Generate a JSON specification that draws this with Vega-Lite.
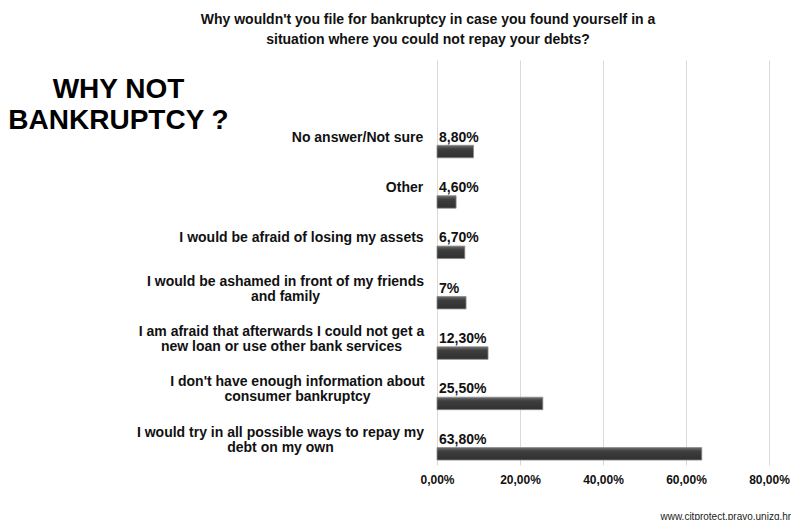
{
  "$schema": "https://vega.github.io/schema/vega-lite/v6.json",
  "width": 332,
  "height": 405,
  "autosize": {"type": "none"},
  "padding": {"left": 437, "top": 60, "right": 22, "bottom": 55},
  "background": "white",
  "config": {
    "font": "Liberation Sans",
    "view": {"stroke": null}
  },
  "title": {
    "text": ["Why wouldn't you file for bankruptcy in case you found yourself in a", "situation where you could not repay your debts?"],
    "anchor": "middle",
    "frame": "group",
    "dx": -175,
    "offset": 13,
    "fontSize": 14,
    "fontWeight": "bold",
    "lineHeight": 20,
    "color": "#111111"
  },
  "data": {
    "values": [
      {"category": "No answer/Not sure", "value": 0.088, "label": "8,80%"},
      {"category": "Other", "value": 0.046, "label": "4,60%"},
      {"category": "I would be afraid of losing my assets", "value": 0.067, "label": "6,70%"},
      {"category": "I would be ashamed in front of my friends|and family", "value": 0.07, "label": "7%"},
      {"category": "I am afraid that afterwards I could not get a|new loan or use other bank services", "value": 0.123, "label": "12,30%"},
      {"category": "I don't have enough information about|consumer bankruptcy", "value": 0.255, "label": "25,50%"},
      {"category": "I would try in all possible ways to repay my|debt on my own", "value": 0.638, "label": "63,80%"}
    ]
  },
  "encoding": {
    "y": {
      "field": "category",
      "type": "nominal",
      "sort": null,
      "scale": {"paddingInner": 0, "paddingOuter": 0.52, "align": 1},
      "axis": {
        "title": ["WHY NOT", "BANKRUPTCY ?"],
        "titleAngle": 0,
        "titleAlign": "center",
        "titleBaseline": "alphabetic",
        "titleX": -319,
        "titleY": 37,
        "titleFontSize": 28,
        "titleFontWeight": "bold",
        "titleLineHeight": 31,
        "titleColor": "#000000",
        "domain": false,
        "ticks": false,
        "grid": false,
        "labelAlign": "center",
        "labelPadding": {
          "condition": [
            {"test": "indexof(datum.value, 'No answer') == 0", "value": 80},
            {"test": "indexof(datum.value, 'Other') == 0", "value": 33},
            {"test": "indexof(datum.value, 'I would be afraid') == 0", "value": 136},
            {"test": "indexof(datum.value, 'I would be ashamed') == 0", "value": 152},
            {"test": "indexof(datum.value, 'I am afraid') == 0", "value": 156},
            {"test": "indexof(datum.value, 'I don') == 0", "value": 140},
            {"test": "indexof(datum.value, 'I would try') == 0", "value": 157}
          ],
          "value": 14
        },
        "labelOffset": {
          "condition": {"test": "indexof(datum.value, '|') >= 0", "value": -7},
          "value": 0
        },
        "labelFontSize": 14,
        "labelFontWeight": "bold",
        "labelColor": "#111111",
        "labelLineHeight": 15,
        "labelLimit": 400,
        "labelExpr": "split(datum.label, '|')"
      }
    }
  },
  "layer": [
    {
      "mark": {
        "type": "bar",
        "height": 12.5,
        "yOffset": 14,
        "color": {
          "gradient": "linear",
          "x1": 0, "y1": 0, "x2": 0, "y2": 1,
          "stops": [
            {"offset": 0, "color": "#6e6e6e"},
            {"offset": 0.3, "color": "#3e3e3e"},
            {"offset": 1, "color": "#303030"}
          ]
        },
        "stroke": "#8a8a8a",
        "strokeWidth": 0.8
      },
      "encoding": {
        "x": {
          "field": "value",
          "type": "quantitative",
          "scale": {"domain": [0, 0.8], "nice": false},
          "axis": {
            "values": [0, 0.2, 0.4, 0.6, 0.8],
            "labelExpr": "replace(format(datum.value, '.2%'), '.', ',')",
            "labelFlush": false,
            "labelOverlap": false,
            "grid": true,
            "gridColor": "#d9d9d9",
            "gridWidth": 1,
            "domain": false,
            "ticks": false,
            "labelPadding": 9,
            "labelFontSize": 12,
            "labelFontWeight": "bold",
            "labelColor": "#111111",
            "title": "www.citprotect.pravo.unizg.hr",
            "titleX": 223,
            "titleY": 51,
            "titleAlign": "left",
            "titleBaseline": "middle",
            "titleFontSize": 10,
            "titleFontWeight": "normal",
            "titleColor": "#222222"
          }
        }
      }
    },
    {
      "mark": {"type": "text", "align": "left", "baseline": "middle", "dx": 2, "fontSize": 14, "fontWeight": "bold", "color": "#111111"},
      "encoding": {
        "x": {"datum": 0, "type": "quantitative"},
        "text": {"field": "label"}
      }
    }
  ]
}
